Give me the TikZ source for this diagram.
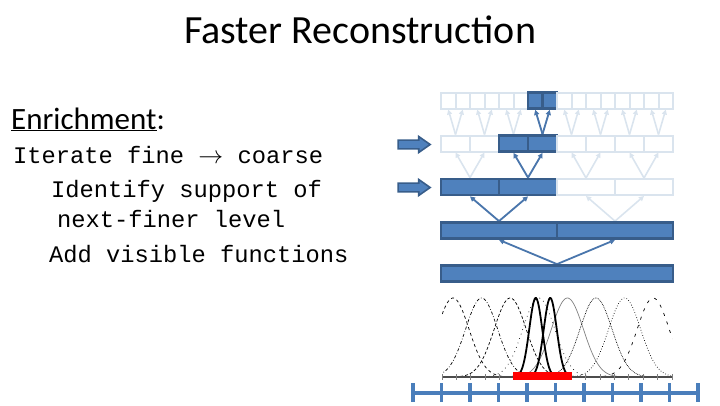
\documentclass[tikz,border=0pt]{standalone}
\usepackage{fontspec}
\setmainfont{Carlito}
\setmonofont{Liberation Mono}
\usetikzlibrary{arrows.meta,shapes.arrows}
\pgfdeclarelayer{bg}
\pgfsetlayers{bg,main}
\definecolor{boxfill}{HTML}{4F81BD}
\definecolor{boxline}{HTML}{385D8A}
\definecolor{paleline}{HTML}{DAE4EE}
\definecolor{liveline}{HTML}{4A76AC}
\definecolor{axisblue}{HTML}{4A7EBB}
\tikzset{
        cell/.style={draw=paleline, fill=white, line width=2pt, minimum height=16pt, inner sep=0pt},
        hot/.style={draw=boxline, fill=boxfill, line width=2.8pt},
        pale/.style={draw=paleline, line width=1.6pt, -{Triangle[length=5pt,width=5pt]}},
        live/.style={draw=liveline, line width=1.8pt, -{Triangle[length=5pt,width=5pt]}},
        pointer/.style={single arrow, draw=boxline, fill=boxfill, line width=1.6pt, minimum height=32pt,
                inner sep=3.6pt, single arrow head extend=3.6pt, single arrow tip angle=70},
        mono/.style={font=\fontsize{23.75}{28}\selectfont\ttfamily, anchor=base west, inner sep=0pt},
        bump/.style={line width=0.7pt, samples=70, smooth},
}

\begin{document}
\begin{tikzpicture}[x=1pt, y=-1pt]
        \useasboundingbox (0,0) rectangle (720,405);
        \node (title) [anchor=base, inner sep=0pt, font=\fontsize{40}{48}\selectfont] at (360,43) {Faster Reconstruction};
        \node (enrich) [anchor=base west, inner sep=0pt, font=\fontsize{31}{37}\selectfont] at (11,129) {\underline{Enrichment}:};
        \node (iter) [mono] at (13,163) {Iterate fine $\rightarrow$ coarse};
        \node (ident) [mono] at (51,197) {Identify support of};
        \node (finer) [mono] at (57,227) {next-finer level};
        \node (add) [mono] at (49,262) {Add visible functions};
        \foreach \lv/\n/\yc/\lo/\hi in {1/16/100.5/7/8, 2/8/143.5/3/4, 3/4/187/1/2, 4/2/230.5/1/2, 5/1/273.5/1/1} {
                \pgfmathsetmacro\w{232/\n}
                \foreach \i in {1,...,\n} {
                        \def\tone{cell}
                        \ifnum\i<\lo\else\ifnum\i>\hi\else\def\tone{hot}\fi\fi
                        \node (b\lv-\i) [cell, \tone, minimum width=\w pt] at ({441+\w*(\i-0.5)}, \yc) {};
                }
        }
        \node (go2) [pointer] at (411,144.5) {};
        \node (go3) [pointer] at (411,187.5) {};
        \begin{pgfonlayer}{bg}
                \foreach \lv/\n in {2/8, 3/4, 4/2} {
                        \pgfmathtruncatemacro\lc{\lv-1}
                        \foreach \p in {1,...,\n} {
                                \pgfmathtruncatemacro\ca{2*\p-1}
                                \pgfmathtruncatemacro\cb{2*\p}
                                \draw (b\lv-\p.north) edge [pale] (b\lc-\ca.south)
                                        edge [pale] (b\lc-\cb.south);
                        }
                }
                \foreach \a/\b in {5-1/4-1, 5-1/4-2, 4-1/3-1, 4-1/3-2, 3-2/2-3, 3-2/2-4, 2-4/1-7, 2-4/1-8}
                        \draw (b\a.north) edge [live] (b\b.south);
        \end{pgfonlayer}
        \begin{scope}
                \clip (442,285) rectangle (672,378);
                \foreach \c/\st in {453/dashed, 481.6/dash dot, 510.2/densely dashed, 538.8/loosely dotted,
                        567.4/gray, 596/densely dotted, 624.6/dotted, 653.2/loosely dashed}
                        \draw [bump, \st] plot [domain=\c-50:\c+50] (\x, {377-79*exp(-(\x-\c)^2/512)});
                \foreach \c in {535.75, 550.25}
                        \draw [bump, line width=1.8pt] plot [domain=\c-25:\c+25] (\x, {377-79*exp(-(\x-\c)^2/84)});
        \end{scope}
        \draw [gray!60!black, line width=1.5pt] (442,377) -- (672,377);
        \foreach \k in {0,...,16}
                \draw [gray, line width=1pt] ({442+14.375*\k},374) -- ++(0,6);
        \fill [red] (513,372) rectangle (572,380);
        \draw [axisblue, line width=4pt] (413,393) -- (698,393);
        \foreach \k in {0,...,10}
                \draw [axisblue, line width=3.5pt] ({413+28.5*\k},383) -- ++(0,19);
\end{tikzpicture}
\end{document}
